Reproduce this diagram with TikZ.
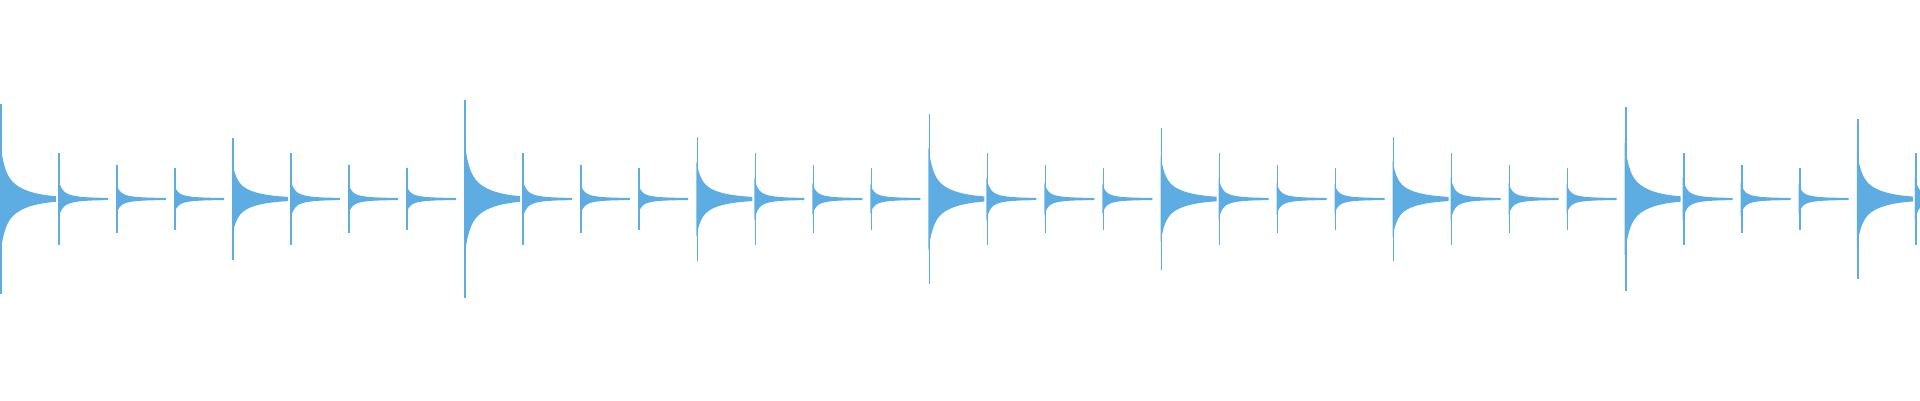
\documentclass[tikz,border=0pt]{standalone}
\begin{document}
\begin{tikzpicture}[x=1pt,y=-1pt]
\definecolor{wav}{HTML}{5DADE2}
\useasboundingbox (0,0) rectangle (1920,400);
\def\cy{199}
\tikzset{spike/.style={wav,line width=1.6pt}}
\foreach \k/\S in {0/95,1/61,2/99,3/62,4/85,5/71,6/62,7/92,8/80}{
  \pgfmathsetmacro{\xo}{232.1*\k}
  % main beat body
  \fill[wav] plot[domain=0:56,samples=60] ({\xo+\x},{\cy-0.6*\S*(0.5*exp(-\x/4)+0.5*exp(-\x/20))-1})
     -- plot[domain=56:0,samples=60] ({\xo+\x},{\cy+0.6*\S*(0.5*exp(-\x/4)+0.5*exp(-\x/20))+1}) -- cycle;
  \draw[spike] ({\xo+1},{\cy-\S}) -- ({\xo+1},{\cy+\S});
  \foreach \b/\T in {1/46,2/34,3/31}{
    \pgfmathsetmacro{\xb}{\xo+58*\b}
    \fill[wav] plot[domain=0:50,samples=50] ({\xb+\x},{\cy-0.45*\T*(0.6*exp(-\x/3)+0.4*exp(-\x/12))-1})
      -- plot[domain=50:0,samples=50] ({\xb+\x},{\cy+0.45*\T*(0.6*exp(-\x/3)+0.4*exp(-\x/12))+1}) -- cycle;
    \draw[spike] ({\xb+1},{\cy-\T}) -- ({\xb+1},{\cy+\T});
  }
}
% final partial bar beat
\pgfmathsetmacro{\xf}{232.1*8+58}
\fill[wav] plot[domain=0:5,samples=10] ({\xf+\x},{\cy-0.45*46*(0.6*exp(-\x/3)+0.4*exp(-\x/12))-1})
  -- plot[domain=5:0,samples=10] ({\xf+\x},{\cy+0.45*46*(0.6*exp(-\x/3)+0.4*exp(-\x/12))+1}) -- cycle;
\draw[spike] ({\xf+1},{\cy-46}) -- ({\xf+1},{\cy+46});
\end{tikzpicture}
\end{document}
